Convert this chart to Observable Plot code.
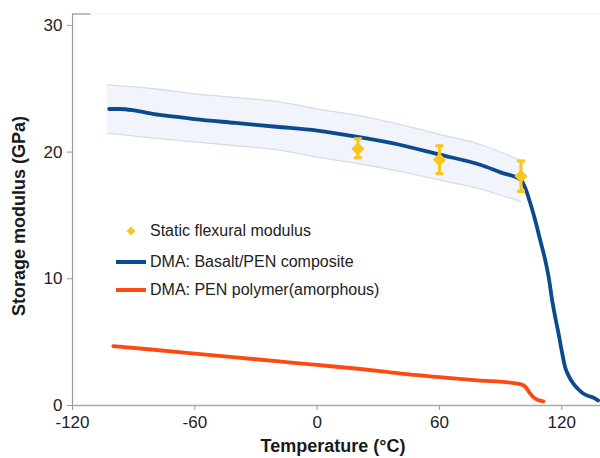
<!DOCTYPE html>
<html>
<head>
<meta charset="utf-8">
<script src="https://cdn.jsdelivr.net/npm/d3@7"></script>
<script src="https://cdn.jsdelivr.net/npm/@observablehq/plot@0.6"></script>
<style>
  body { margin: 0; background: #fff; }
  #wrap { position: relative; width: 600px; height: 458px; font-family: "Liberation Sans", Arial, sans-serif; color: #222; }
  #wrap > svg { position: absolute; left: 0; top: 0; }
  .ttl { position: absolute; font-weight: bold; font-size: 18px; white-space: nowrap; color: #1a1a1a; }
  .leg { position: absolute; font-size: 16px; white-space: nowrap; color: #222; display: flex; align-items: center; }
  .leg svg { display: block; flex: none; }
</style>
</head>
<body>
<div id="wrap"></div>
<script>
// ---- data ----
const compositeT = [-102, -97, -90, -80, -70, -60, -40, -20, 0, 20, 40, 60, 80, 90, 100, 102, 104.5, 107, 109.5, 112, 113.5, 115.3, 117, 118.4, 120, 121.7, 123.5, 125.6, 128, 130.5, 133, 135.4, 137.8];
const compositeE = [23.4, 23.4, 23.3, 23.0, 22.8, 22.6, 22.3, 22.0, 21.7, 21.2, 20.6, 19.8, 19.0, 18.4, 17.8, 17.2, 16.0, 14.6, 13.0, 11.4, 10.2, 8.3, 6.8, 5.7, 4.3, 3.0, 2.3, 1.74, 1.3, 0.95, 0.75, 0.63, 0.4];

const bandT = [-103, -80, -60, -40, -20, 0, 20, 40, 60, 80, 96, 100];
const bandHi = [25.3, 25.0, 24.6, 24.3, 24.0, 23.4, 22.9, 22.2, 21.4, 20.6, 19.6, 19.3];
const bandLo = [21.5, 21.1, 20.8, 20.5, 20.2, 19.6, 19.1, 18.5, 17.8, 17.1, 16.3, 16.1];

const polymerT = [-100, -80, -60, -40, -20, 0, 20, 33, 45, 60, 80, 95, 100, 102, 104.5, 106.5, 108, 111];
const polymerE = [4.68, 4.4, 4.1, 3.8, 3.5, 3.2, 2.9, 2.68, 2.45, 2.24, 1.97, 1.8, 1.67, 1.5, 0.95, 0.6, 0.45, 0.33];

const staticT = [20, 60, 100];
const staticMean = [20.26, 19.4, 18.1];
const staticLo = [19.55, 18.3, 16.9];
const staticHi = [21.05, 20.5, 19.3];

const xTicks = [-120, -60, 0, 60, 120];
const yTicks = [0, 10, 20, 30];
const xDomain = [-120, 139];
const yDomain = [0, 30.9];

const legendLabels = ["Static flexural modulus", "DMA: Basalt/PEN composite", "DMA: PEN polymer(amorphous)"];
const xTitle = "Temperature (°C)";
const yTitle = "Storage modulus (GPa)";

const BLUE = "#0c4a8e", RED = "#fb4a12", YEL = "#f6c623";

// ---- tables ----
const composite = compositeT.map((t, i) => ({t, e: compositeE[i]}));
const band = bandT.map((t, i) => ({t, hi: bandHi[i], lo: bandLo[i]}));
const polymer = polymerT.map((t, i) => ({t, e: polymerE[i]}));
const stat = staticT.map((t, i) => ({t, m: staticMean[i], lo: staticLo[i], hi: staticHi[i]}));

const capSymbol = { draw(ctx, size) { const w = Math.sqrt(size) / 2; ctx.moveTo(-w, 0); ctx.lineTo(w, 0); } };

const chart = Plot.plot({
  width: 600, height: 458,
  marginLeft: 72, marginRight: 0, marginTop: 13.5, marginBottom: 53,
  style: { fontFamily: "Liberation Sans, Arial, sans-serif", fontSize: "17px", color: "#222", background: "transparent" },
  x: { domain: xDomain },
  y: { domain: yDomain },
  marks: [
    Plot.ruleY([yDomain[1]], { stroke: "#eeeeee", strokeWidth: 1 }),
    Plot.ruleY([yDomain[1]], { x1: xDomain[0], x2: xDomain[0] + 9, stroke: "#999", strokeWidth: 1.2 }),
    Plot.areaY(band, { x: "t", y1: "lo", y2: "hi", fill: "#f1f5fb", curve: "monotone-x" }),
    Plot.lineY(band, { x: "t", y: "hi", stroke: "#d5dcea", strokeWidth: 1.3, curve: "monotone-x" }),
    Plot.lineY(band, { x: "t", y: "lo", stroke: "#d5dcea", strokeWidth: 1.3, curve: "monotone-x" }),
    Plot.ruleX([xDomain[0]], { stroke: "#999", strokeWidth: 1.2 }),
    Plot.ruleY([0], { stroke: "#aaa", strokeWidth: 1.5 }),
    Plot.axisY({ ticks: yTicks, tickSize: 5, tickPadding: 5, label: null, stroke: "#999", fontSize: 17 }),
    Plot.axisX({ ticks: xTicks, tickSize: 5, tickPadding: 5, label: null, stroke: "#999", fontSize: 17, tickFormat: d => String(d) }),
    Plot.lineY(polymer, { x: "t", y: "e", stroke: RED, strokeWidth: 3.8, curve: "monotone-x", strokeLinecap: "round" }),
    Plot.lineY(composite, { x: "t", y: "e", stroke: BLUE, strokeWidth: 3.8, curve: "monotone-x", strokeLinecap: "round" }),
    Plot.ruleX(stat, { x: "t", y1: "lo", y2: "hi", stroke: YEL, strokeWidth: 3.2 }),
    Plot.dot(stat, { x: "t", y: "lo", symbol: capSymbol, r: 4.5, stroke: YEL, strokeWidth: 3.2 }),
    Plot.dot(stat, { x: "t", y: "hi", symbol: capSymbol, r: 4.5, stroke: YEL, strokeWidth: 3.2 }),
    Plot.dot(stat, { x: "t", y: "m", symbol: "diamond2", r: 5, fill: YEL, stroke: YEL })
  ]
});

const wrap = document.getElementById("wrap");
wrap.appendChild(chart);

// axis titles
const xt = document.createElement("div");
xt.className = "ttl"; xt.textContent = xTitle;
xt.style.left = "333px"; xt.style.top = "436px"; xt.style.transform = "translateX(-50%)";
wrap.appendChild(xt);
const yt = document.createElement("div");
yt.className = "ttl"; yt.textContent = yTitle;
yt.style.left = "19px"; yt.style.top = "216px"; yt.style.transform = "translate(-50%,-50%) rotate(-90deg)";
wrap.appendChild(yt);

// legend
const legendTops = [231, 261.5, 290];
const swatches = [
  `<svg width="30" height="12"><path d="M15 1.5 L19.5 6 L15 10.5 L10.5 6 Z" fill="${YEL}"/></svg>`,
  `<svg width="30" height="12"><line x1="0" y1="6" x2="30" y2="6" stroke="${BLUE}" stroke-width="4"/></svg>`,
  `<svg width="30" height="12"><line x1="0" y1="6" x2="30" y2="6" stroke="${RED}" stroke-width="4"/></svg>`
];
legendLabels.forEach((lab, i) => {
  const d = document.createElement("div");
  d.className = "leg";
  d.style.left = "116px"; d.style.top = (legendTops[i] - 10) + "px"; d.style.height = "20px";
  d.innerHTML = swatches[i] + `<span style="margin-left:4px">${lab}</span>`;
  wrap.appendChild(d);
});
</script>
</body>
</html>
